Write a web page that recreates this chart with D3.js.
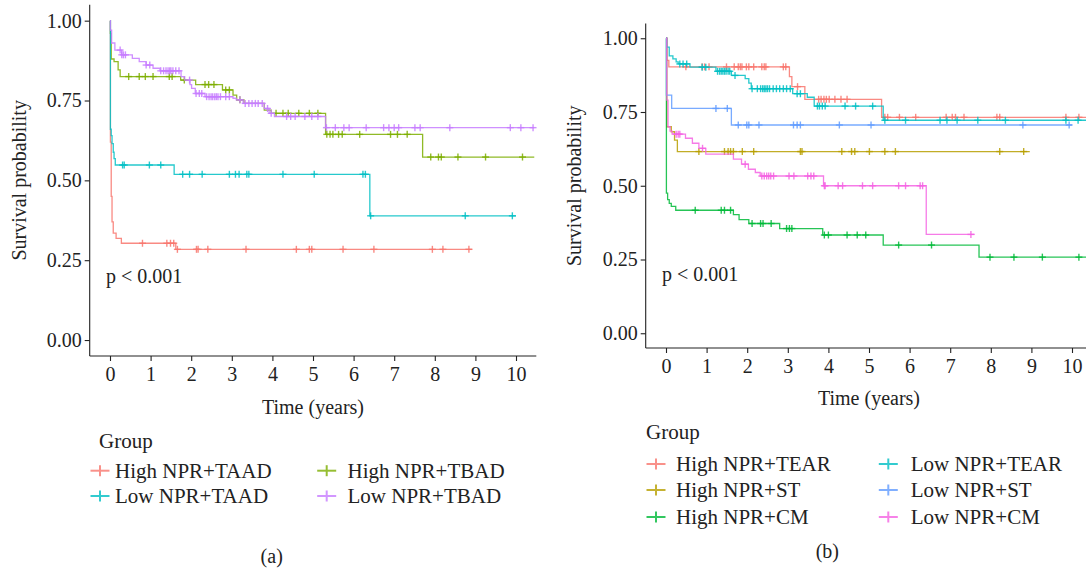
<!DOCTYPE html>
<html>
<head>
<meta charset="utf-8">
<script src="https://cdn.jsdelivr.net/npm/d3@7"></script>
<style>
  body { margin: 0; background: #fff; }
  svg { display: block; font-family: "Liberation Serif", "DejaVu Serif", serif; }
  .axis path, .axis line { stroke: #222; stroke-width: 1.1; }
  .axis text { font-size: 20px; fill: #222; font-family: "Liberation Serif", serif; }
  .curve { fill: none; stroke-width: 1.3; stroke-opacity: 0.85; }
  .mark { stroke-width: 1.4; stroke-opacity: 0.85; }
</style>
</head>
<body>
<div id="chart"></div>
<script>

// ---------------------------------------------------------------------------
// data: step points [time, survival], censor times, end
//

var xTicks = [0, 1, 2, 3, 4, 5, 6, 7, 8, 9, 10];
var yTicks = [0, 0.25, 0.5, 0.75, 1];

// panel (a)
var groupsA = ["High NPR+TAAD", "High NPR+TBAD", "Low NPR+TAAD", "Low NPR+TBAD"];
var colorsA = ["#F8766D", "#7CAE00", "#00BFC4", "#C77CFF"];

var highTAAD = [[0, 1], [0.01, 0.62], [0.03, 0.45], [0.05, 0.37], [0.08, 0.335],
    [0.15, 0.318], [0.28, 0.303], [1.62, 0.284]];
var highTAADCensor = [0.80, 1.40, 1.49, 1.57, 1.66, 2.13, 2.17, 2.41, 3.35, 4.59,
    4.91, 4.97, 5.74, 6.50, 7.94, 8.20, 8.84];

var highTBAD = [[0, 1], [0.01, 0.96], [0.03, 0.88], [0.10, 0.872], [0.20, 0.846],
    [0.25, 0.825], [1.74, 0.814], [2.11, 0.80], [2.77, 0.783], [3.03, 0.767],
    [3.12, 0.752], [3.30, 0.741], [3.80, 0.72], [3.97, 0.71], [5.31, 0.644], [7.70, 0.573]];
var highTBADCensor = [0.46, 0.72, 0.87, 1.06, 1.46, 1.53, 1.83, 2.34, 2.43, 2.56,
    2.85, 2.94, 3.20, 4.09, 4.26, 4.39, 4.65, 4.91, 5.12, 5.34, 5.42, 5.49, 5.63,
    5.72, 6.15, 6.91, 7.08, 7.32, 7.90, 8.09, 8.16, 8.57, 9.25, 10.16];

var lowTAAD = [[0, 1], [0.01, 0.66], [0.03, 0.64], [0.05, 0.615], [0.08, 0.588],
    [0.10, 0.568], [0.13, 0.548], [1.58, 0.519], [6.40, 0.389]];
var lowTAADCensor = [0.31, 0.35, 0.97, 1.25, 1.79, 1.96, 2.27, 2.94, 3.09, 3.18,
    3.37, 3.42, 4.26, 5.03, 6.23, 6.29, 6.42, 8.75, 9.91];

var lowTBAD = [[0, 1], [0.01, 0.97], [0.04, 0.93], [0.12, 0.908], [0.29, 0.893],
    [0.55, 0.882], [0.72, 0.872], [0.89, 0.861], [1.06, 0.851], [1.23, 0.843],
    [1.75, 0.825], [1.84, 0.814], [1.97, 0.80], [2.01, 0.788], [2.10, 0.772],
    [2.34, 0.762], [3.03, 0.757], [3.11, 0.752], [3.28, 0.741], [3.80, 0.725],
    [3.92, 0.71], [4.05, 0.70], [5.31, 0.665]];
var lowTBADCensor = [0.25, 0.29, 0.33, 0.38, 0.89, 0.98, 1.25, 1.32, 1.38, 1.43,
    1.47, 1.50, 1.55, 1.62, 1.70, 1.96, 2.12, 2.20, 2.26, 2.38, 2.44, 2.49, 2.53,
    2.58, 2.62, 2.66, 2.72, 2.85, 2.94, 3.20, 3.33, 3.42, 3.50, 3.58, 3.65, 3.75,
    3.88, 3.97, 4.35, 4.45, 4.56, 4.80, 4.97, 5.12, 5.33, 5.55, 5.76, 5.89, 6.31,
    6.74, 6.87, 7.00, 7.11, 7.51, 7.64, 8.37, 9.86, 10.12, 10.42];

var endsA = [8.92, 10.45, 10.0, 10.45];

// panel (b)
var groupsB = ["High NPR+TEAR", "High NPR+ST", "High NPR+CM",
               "Low NPR+TEAR", "Low NPR+ST", "Low NPR+CM"];
var colorsB = ["#F8766D", "#B79F00", "#00BA38", "#00BFC4", "#619CFF", "#F564E3"];

var highTEAR = [[0, 1], [0.02, 0.925], [0.07, 0.903], [3.04, 0.87], [3.10, 0.836],
    [3.42, 0.793], [5.31, 0.732]];
var highTEARCensor = [0.49, 0.89, 0.95, 1.06, 1.49, 1.68, 1.78, 1.83, 1.87, 1.98,
    2.04, 2.16, 2.36, 2.42, 2.46, 2.89, 2.95, 3.24, 3.76, 3.82, 3.89, 3.95, 4.02,
    4.16, 4.31, 4.46, 5.39, 5.46, 5.75, 6.15, 6.90, 7.05, 7.13, 7.34, 8.15, 8.22,
    9.85, 10.17];

var highST = [[0, 1], [0.02, 0.70], [0.13, 0.683], [0.21, 0.655], [0.28, 0.616]];
var highSTCensor = [0.81, 1.44, 1.53, 1.59, 1.66, 1.88, 2.16, 3.31, 3.35, 4.33,
    4.57, 4.65, 5.01, 5.39, 5.65, 8.22, 8.81];

var highCM = [[0, 1], [0.01, 0.475], [0.04, 0.453], [0.08, 0.44], [0.13, 0.43],
    [0.24, 0.417], [1.66, 0.402], [1.80, 0.385], [2.04, 0.372], [2.80, 0.355],
    [3.86, 0.333], [5.35, 0.299], [7.71, 0.258]];
var highCMCensor = [0.72, 1.36, 1.44, 1.59, 2.12, 2.33, 2.39, 2.59, 2.97, 3.04,
    3.10, 3.90, 4.00, 4.46, 4.71, 4.92, 5.73, 6.54, 7.98, 8.57, 9.27, 10.17];

var lowTEAR = [[0, 1], [0.02, 0.97], [0.08, 0.94], [0.17, 0.93], [0.25, 0.92],
    [0.30, 0.913], [0.59, 0.902], [1.23, 0.888], [1.61, 0.874], [1.95, 0.863],
    [2.04, 0.848], [2.10, 0.829], [3.12, 0.812], [3.48, 0.80], [3.65, 0.77],
    [5.35, 0.722]];
var lowTEARCensor = [0.34, 0.42, 0.51, 0.89, 0.98, 1.27, 1.32, 1.36, 1.40, 1.44,
    1.48, 1.53, 1.57, 1.70, 2.12, 2.25, 2.33, 2.38, 2.42, 2.46, 2.50, 2.55, 2.64,
    2.72, 2.80, 2.89, 2.97, 3.06, 3.23, 3.31, 3.73, 3.78, 3.85, 3.92, 4.41, 4.67,
    5.09, 5.39, 5.90, 6.75, 6.92, 7.17, 7.68, 8.36, 9.85, 10.15];

var lowST = [[0, 1], [0.01, 0.807], [0.14, 0.762], [1.61, 0.706]];
var lowSTCensor = [1.23, 1.51, 1.78, 1.99, 2.04, 2.29, 3.14, 3.23, 3.31, 4.27,
    5.05, 8.79, 9.93];

var lowCM = [[0, 1], [0.02, 0.79], [0.05, 0.70], [0.10, 0.685], [0.15, 0.675],
    [0.48, 0.661], [0.65, 0.644], [0.81, 0.627], [0.98, 0.607], [1.66, 0.59],
    [1.86, 0.573], [2.03, 0.556], [2.20, 0.545], [2.32, 0.533], [3.88, 0.50],
    [6.41, 0.335]];
var lowCMCensor = [0.25, 0.30, 0.34, 0.90, 1.95, 2.36, 2.42, 2.48, 2.53, 2.58,
    2.65, 3.03, 3.15, 3.49, 3.57, 3.64, 3.90, 3.92, 4.24, 4.35, 4.84, 5.09, 5.73,
    5.90, 6.26, 6.32, 7.51];

var endsB = [10.5, 8.96, 10.5, 10.5, 10.0, 7.6];

//----------------------------------------------------------------------------
//
// chart
//

var svg = d3.select("#chart").append("svg")
    .attr("width", 1086)
    .attr("height", 571);

function survivalAt(steps, t) {
    var i = d3.bisector(function (d) { return d[0]; }).right(steps, t) - 1;
    return steps[Math.max(i, 0)][1];
}

function panel(opts) {
    var x = d3.scaleLinear().domain([-0.5, 10.5]).range(opts.xRange),
        y = d3.scaleLinear().domain([-0.05, 1.05]).range(opts.yRange);

    var g = svg.append("g");

    // curves
    var line = d3.line()
        .x(function (d) { return x(d[0]); })
        .y(function (d) { return y(d[1]); })
        .curve(d3.curveStepAfter);

    opts.series.forEach(function (s, i) {
        var pts = s.steps.concat([[opts.ends[i], s.steps[s.steps.length - 1][1]]]);
        g.append("path")
            .attr("class", "curve")
            .attr("stroke", opts.colors[i])
            .attr("d", line(pts));

        // censor "+" marks
        var m = g.append("g").attr("stroke", opts.colors[i]).attr("class", "mark");
        s.censor.forEach(function (t) {
            var cx = x(t), cy = y(survivalAt(s.steps, t));
            m.append("line").attr("x1", cx - 3.5).attr("x2", cx + 3.5).attr("y1", cy).attr("y2", cy);
            m.append("line").attr("x1", cx).attr("x2", cx).attr("y1", cy - 3.5).attr("y2", cy + 3.5);
        });
    });

    // axes
    g.append("g")
        .attr("class", "axis")
        .attr("transform", "translate(" + opts.xRange[0] + ",0)")
        .call(d3.axisLeft(y).tickValues(yTicks).tickFormat(d3.format(".2f")).tickSize(5).tickPadding(3))
        .call(function (a) { a.select(".domain").attr("d", "M0," + opts.yRange[0] + "V" + opts.yRange[1]); });

    g.append("g")
        .attr("class", "axis")
        .attr("transform", "translate(0," + opts.yRange[0] + ")")
        .call(d3.axisBottom(x).tickValues(xTicks).tickFormat(d3.format("d")).tickSize(5).tickPadding(6))
        .call(function (a) { a.select(".domain").attr("d", "M" + opts.xRange[0] + ",0H" + opts.xRange[1]); });

    // titles
    g.append("text")
        .attr("transform", "translate(" + opts.yTitleX + "," + ((opts.yRange[0] + opts.yRange[1]) / 2) + ") rotate(-90)")
        .attr("text-anchor", "middle")
        .attr("dy", "0.35em")
        .style("font-size", "20px")
        .attr("fill", "#222")
        .text("Survival probability");

    g.append("text")
        .attr("x", (opts.xRange[0] + opts.xRange[1]) / 2)
        .attr("y", opts.xTitleY)
        .attr("text-anchor", "middle")
        .attr("dy", "0.35em")
        .style("font-size", "20px")
        .attr("fill", "#222")
        .text("Time (years)");

    g.append("text")
        .attr("x", x(-0.1))
        .attr("y", y(0.2))
        .attr("dy", "0.35em")
        .style("font-size", "20px")
        .attr("fill", "#222")
        .text("p < 0.001");

    // legend
    var lg = g.append("g");
    lg.append("text")
        .attr("x", opts.legend.x)
        .attr("y", opts.legend.titleY)
        .style("font-size", "21px")
        .attr("fill", "#222")
        .text("Group");

    var nCols = opts.legend.keyX.length;
    opts.groups.forEach(function (name, i) {
        var col = opts.legend.byRow ? i % nCols : Math.floor(i / opts.legend.rows),
            row = opts.legend.byRow ? Math.floor(i / nCols) : i % opts.legend.rows,
            kx = opts.legend.keyX[col],
            ky = opts.legend.rowY[row];
        var k = lg.append("g").attr("stroke", opts.colors[i]).attr("stroke-width", 2).attr("opacity", 0.8);
        k.append("line").attr("x1", kx - 9.5).attr("x2", kx + 9.5).attr("y1", ky).attr("y2", ky);
        k.append("line").attr("x1", kx).attr("x2", kx).attr("y1", ky - 5.5).attr("y2", ky + 5.5);
        lg.append("text")
            .attr("x", opts.legend.textX[col])
            .attr("y", ky)
            .attr("dy", "0.35em")
            .style("font-size", "21px")
            .attr("fill", "#222")
            .text(name);
    });

    g.append("text")
        .attr("x", opts.captionX)
        .attr("y", opts.captionY)
        .attr("text-anchor", "middle")
        .style("font-size", "20px")
        .attr("fill", "#222")
        .text(opts.caption);
}

panel({
    xRange: [89.7, 536.3],
    yRange: [356, 4.7],
    yTitleX: 19,
    xTitleY: 406.5,
    series: [
        {steps: highTAAD, censor: highTAADCensor},
        {steps: highTBAD, censor: highTBADCensor},
        {steps: lowTAAD, censor: lowTAADCensor},
        {steps: lowTBAD, censor: lowTBADCensor}
    ],
    ends: endsA,
    groups: groupsA,
    colors: colorsA,
    legend: {x: 99, titleY: 448, rows: 2, byRow: true, keyX: [100, 326.7], textX: [115, 347.5], rowY: [470.7, 496]},
    caption: "(a)",
    captionX: 271.7,
    captionY: 563
});

panel({
    xRange: [645.7, 1092.3],
    yRange: [348, 23.5],
    yTitleX: 574,
    xTitleY: 398,
    series: [
        {steps: highTEAR, censor: highTEARCensor},
        {steps: highST, censor: highSTCensor},
        {steps: highCM, censor: highCMCensor},
        {steps: lowTEAR, censor: lowTEARCensor},
        {steps: lowST, censor: lowSTCensor},
        {steps: lowCM, censor: lowCMCensor}
    ],
    ends: endsB,
    groups: groupsB,
    colors: colorsB,
    legend: {x: 646, titleY: 439, rows: 3, byRow: false, keyX: [656, 888.3], textX: [676, 910.7], rowY: [464, 490, 517]},
    caption: "(b)",
    captionX: 827.3,
    captionY: 558
});
</script>
</body>
</html>
